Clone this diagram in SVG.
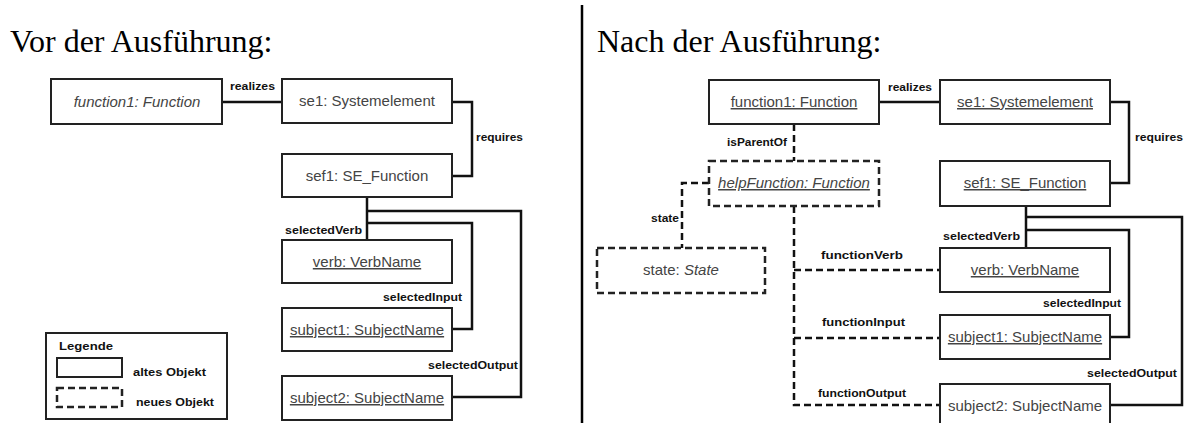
<svg xmlns="http://www.w3.org/2000/svg" width="1184" height="423" viewBox="0 0 1184 423">
<style>
.title{font-family:"Liberation Serif","Times New Roman",serif;font-size:32px;fill:#000}
.box{fill:#fff;stroke:#222;stroke-width:2}
.dbox{fill:#fff;stroke:#222;stroke-width:2.5;stroke-dasharray:7 4}
.t{font-family:"Liberation Sans",Arial,sans-serif;font-size:15px;fill:#444;text-anchor:middle}
.u{text-decoration:underline}
.i{font-style:italic}
.lbl{font-family:"Liberation Sans",Arial,sans-serif;font-size:11px;font-weight:bold;fill:#111}
.c{fill:none;stroke:#111;stroke-width:2.5}
.dc{fill:none;stroke:#111;stroke-width:2.5;stroke-dasharray:7 4}
</style>
<rect width="1184" height="423" fill="#fff"/>
<text class="title" x="10" y="52">Vor der Ausführung:</text>
<text class="title" x="597" y="52">Nach der Ausführung:</text>
<line x1="582" y1="5" x2="582" y2="423" stroke="#000" stroke-width="2.5"/>

<g id="connectors">
  <!-- left -->
  <path class="c" d="M222,102 H282"/>
  <path class="c" d="M452,102 H472 V176 H452"/>
  <path class="c" d="M367,197 V240"/>
  <path class="c" d="M367,211 H521 V397 H452"/>
  <path class="c" d="M367,223 H472 V329 H452"/>
  <text class="lbl" x="230" y="90" textLength="45" lengthAdjust="spacingAndGlyphs">realizes</text>
  <text class="lbl" x="476" y="141" textLength="47" lengthAdjust="spacingAndGlyphs">requires</text>
  <text class="lbl" x="285" y="234" textLength="77" lengthAdjust="spacingAndGlyphs">selectedVerb</text>
  <text class="lbl" x="383" y="301" textLength="79" lengthAdjust="spacingAndGlyphs">selectedInput</text>
  <text class="lbl" x="428" y="369" textLength="90" lengthAdjust="spacingAndGlyphs">selectedOutput</text>
  <!-- right -->
  <path class="c" d="M879,102 H940"/>
  <path class="c" d="M1110,102 H1129 V183 H1110"/>
  <path class="c" d="M1026,206 V248"/>
  <path class="c" d="M1026,217 H1182 V405 H1110"/>
  <path class="c" d="M1026,230 H1129 V337 H1110"/>
  <path class="dc" d="M794,124 V161"/>
  <path class="dc" d="M709,183 H682 V248"/>
  <path class="dc" d="M794,206 V405 H940"/>
  <path class="dc" d="M794,270 H940"/>
  <path class="dc" d="M794,338 H940"/>
  <text class="lbl" x="888" y="91" textLength="44" lengthAdjust="spacingAndGlyphs">realizes</text>
  <text class="lbl" x="1135" y="141" textLength="48" lengthAdjust="spacingAndGlyphs">requires</text>
  <text class="lbl" x="943" y="240" textLength="77" lengthAdjust="spacingAndGlyphs">selectedVerb</text>
  <text class="lbl" x="1043" y="307" textLength="78" lengthAdjust="spacingAndGlyphs">selectedInput</text>
  <text class="lbl" x="1087" y="377" textLength="90" lengthAdjust="spacingAndGlyphs">selectedOutput</text>
  <text class="lbl" x="727" y="146" textLength="60" lengthAdjust="spacingAndGlyphs">isParentOf</text>
  <text class="lbl" x="651" y="222" textLength="28" lengthAdjust="spacingAndGlyphs">state</text>
  <text class="lbl" x="821" y="259" textLength="82" lengthAdjust="spacingAndGlyphs">functionVerb</text>
  <text class="lbl" x="822" y="326" textLength="83" lengthAdjust="spacingAndGlyphs">functionInput</text>
  <text class="lbl" x="818" y="397" textLength="88" lengthAdjust="spacingAndGlyphs">functionOutput</text>
</g>

<g id="l-function1"><rect class="box" x="51" y="79" width="171" height="45"/><text class="t i" x="137" y="107">function1: Function</text></g>
<g id="l-se1"><rect class="box" x="282" y="79" width="170" height="44"/><text class="t" x="367" y="106">se1: Systemelement</text></g>
<g id="l-sef1"><rect class="box" x="282" y="154" width="170" height="43"/><text class="t" x="367" y="181">sef1: SE_Function</text></g>
<g id="l-verb"><rect class="box" x="282" y="240" width="170" height="43"/><text class="t u" x="367" y="267">verb: VerbName</text></g>
<g id="l-subject1"><rect class="box" x="282" y="308" width="170" height="43"/><text class="t u" x="367" y="335">subject1: SubjectName</text></g>
<g id="l-subject2"><rect class="box" x="282" y="376" width="170" height="44"/><text class="t u" x="367" y="403">subject2: SubjectName</text></g>

<g id="legend">
  <rect x="46" y="333" width="181" height="86" fill="#fff" stroke="#222" stroke-width="2"/>
  <text class="lbl" x="59" y="350" textLength="54" lengthAdjust="spacingAndGlyphs">Legende</text>
  <rect class="box" x="57" y="358" width="65" height="19"/>
  <text class="lbl" x="133" y="376" textLength="73" lengthAdjust="spacingAndGlyphs">altes Objekt</text>
  <rect class="dbox" x="57" y="388" width="65" height="19"/>
  <text class="lbl" x="136" y="406" textLength="78" lengthAdjust="spacingAndGlyphs">neues Objekt</text>
</g>

<g id="r-function1"><rect class="box" x="709" y="80" width="170" height="44"/><text class="t u" x="794" y="107">function1: Function</text></g>
<g id="r-se1"><rect class="box" x="940" y="80" width="170" height="44"/><text class="t u" x="1025" y="107">se1: Systemelement</text></g>
<g id="r-sef1"><rect class="box" x="940" y="161" width="170" height="45"/><text class="t u" x="1025" y="188">sef1: SE_Function</text></g>
<g id="r-helpFunction"><rect class="dbox" x="709" y="161" width="170" height="45"/><text class="t u i" x="794" y="188">helpFunction: Function</text></g>
<g id="r-state"><rect class="dbox" x="597" y="248" width="168" height="45"/><text class="t" x="681" y="275">state: <tspan class="i">State</tspan></text></g>
<g id="r-verb"><rect class="box" x="940" y="248" width="170" height="44"/><text class="t u" x="1025" y="275">verb: VerbName</text></g>
<g id="r-subject1"><rect class="box" x="940" y="315" width="170" height="44"/><text class="t u" x="1025" y="342">subject1: SubjectName</text></g>
<g id="r-subject2"><rect class="box" x="940" y="384" width="170" height="44"/><text class="t" x="1025" y="411">subject2: SubjectName</text></g>
</svg>
